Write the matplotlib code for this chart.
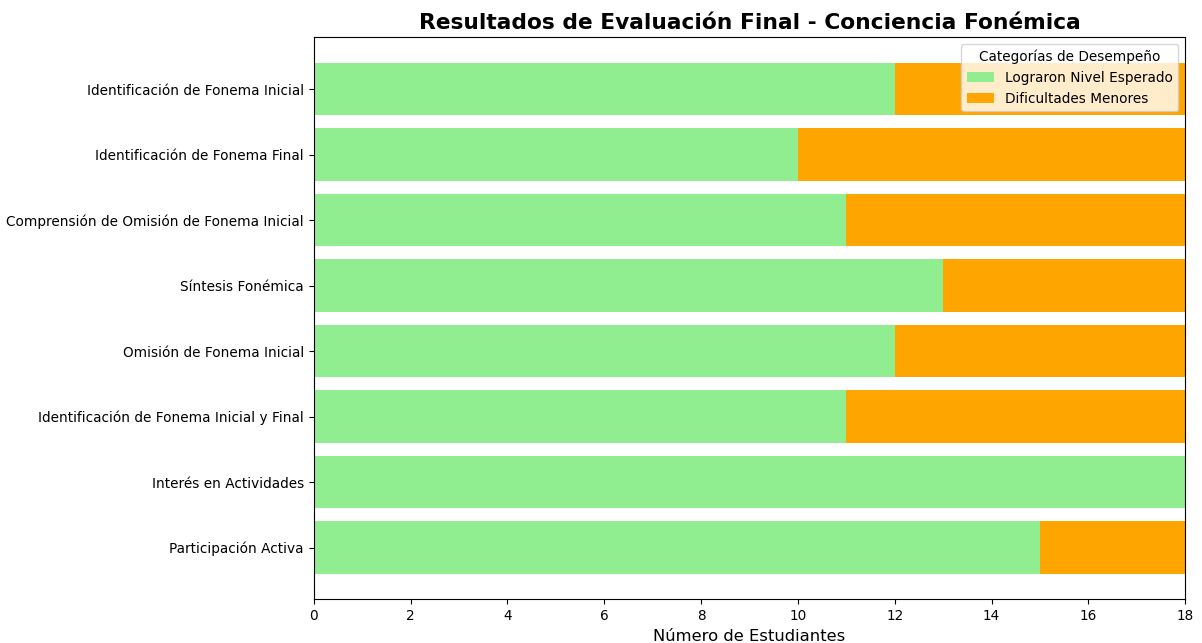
import matplotlib.pyplot as plt
import numpy as np

categorias = [
    'Identificación de Fonema Inicial',
    'Identificación de Fonema Final',
    'Comprensión de Omisión de Fonema Inicial',
    'Síntesis Fonémica',
    'Omisión de Fonema Inicial',
    'Identificación de Fonema Inicial y Final',
    'Interés en Actividades',
    'Participación Activa',
]
nivel_esperado = [12, 10, 11, 13, 12, 11, 18, 15]
dificultades = [6, 8, 7, 5, 6, 7, 0, 3]

plt.rcParams['font.size'] = 9.8

fig, ax = plt.subplots(figsize=(12.02, 6.43), dpi=100)

y = np.arange(len(categorias))
ax.barh(y, nivel_esperado, color='lightgreen', label='Lograron Nivel Esperado')
ax.barh(y, dificultades, left=nivel_esperado, color='orange', label='Dificultades Menores')

ax.set_yticks(y)
ax.set_yticklabels(categorias)
ax.invert_yaxis()
ax.set_xlim(0, 18)
ax.set_xlabel('Número de Estudiantes', fontsize=11.8)
ax.set_title('Resultados de Evaluación Final - Conciencia Fonémica', fontsize=15.7, fontweight='bold')
ax.legend(title='Categorías de Desempeño', loc='upper right')

plt.subplots_adjust(left=0.261, right=0.986, top=0.942, bottom=0.068)
plt.savefig('out.png', dpi=100)
